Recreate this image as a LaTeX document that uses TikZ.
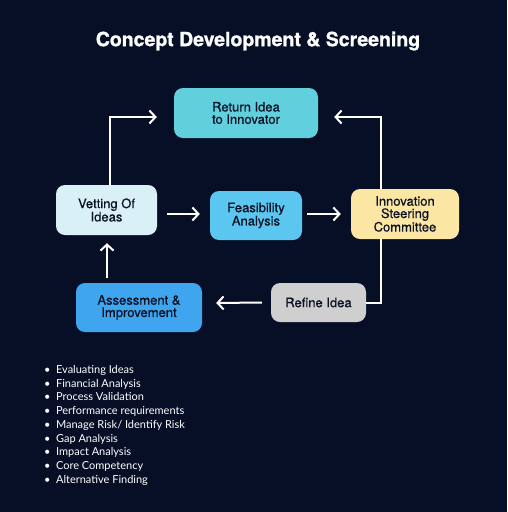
\documentclass[tikz,border=0pt]{standalone}
\usepackage{fontspec}
\setmainfont{TeX Gyre Heros}
\newfontfamily\boxfont[FakeBold=0.6]{TeX Gyre Heros}
\newfontfamily\titlefont[FakeBold=1.2]{TeX Gyre Heros}
\newfontfamily\listfont{Lato}
\usetikzlibrary{arrows.meta,calc}
\definecolor{bg}{HTML}{060F25}
\definecolor{ink}{HTML}{0B1226}
\definecolor{cRet}{HTML}{62CFDD}
\definecolor{cVet}{HTML}{DAF0F7}
\definecolor{cFeas}{HTML}{5BC6F0}
\definecolor{cIsc}{HTML}{FBE7A3}
\definecolor{cAss}{HTML}{3EA5EE}
\definecolor{cRef}{HTML}{CFCFCF}
\tikzset{
  box/.style={rounded corners=9pt, align=center, text=ink, inner sep=0pt,
    font=\boxfont\fontsize{13}{12.3}\selectfont},
  arr/.style={draw=white, line width=2pt, -{Straight Barb[length=6pt,width=13pt,line width=2pt]}},
  ln/.style={draw=white, line width=2pt},
}
\begin{document}
\begin{tikzpicture}[x=1pt,y=-1pt]
\fill[bg] (0,0) rectangle (507,512);
\useasboundingbox (0,0) rectangle (507,512);
\node[text=white, font=\titlefont\fontsize{19.5}{20}\selectfont\bfseries] (title) at (258,41) {Concept Development \& Screening};
\node[box, fill=cRet, minimum width=144pt, minimum height=50pt] (ret) at (246,113) {Return Idea\\to Innovator};
\node[box, fill=cVet, minimum width=101pt, minimum height=50pt] (vet) at (106.5,210) {Vetting Of\\Ideas};
\node[box, fill=cFeas, minimum width=92pt, minimum height=49pt] (feas) at (256,215.5) {Feasibility\\Analysis};
\node[box, fill=cIsc, minimum width=108pt, minimum height=50pt] (isc) at (405,214) {Innovation\\Steering\\Committee};
\node[box, fill=cAss, minimum width=126pt, minimum height=49pt] (ass) at (139,307.5) {Assessment \&\\Improvement};
\node[box, fill=cRef, minimum width=95pt, minimum height=39pt] (ref) at (318.5,302.5) {Refine Idea};
\draw[arr] ($(vet.north)+(3.5,0)$) |- ($(ret.west)+(-17,4)$);
\draw[arr] ($(isc.north)+(-24,0)$) |- ($(ret.east)+(16,4)$);
\draw[arr] ($(vet.east)+(10,4)$) -- ($(feas.west)+(-10,-1.5)$);
\draw[arr] ($(feas.east)+(5,-1.5)$) -- ($(isc.west)+(-10,0)$);
\draw[ln] ($(isc.south)+(-24,0)$) |- (ref.east);
\draw[arr] ($(ref.west)+(-9,0)$) -- ($(ass.east)+(14,-4.5)$);
\draw[arr] ($(ass.north)+(-32,-5)$) -- ($(vet.south)+(0.5,8)$);
\node[anchor=north west, text=white, align=left, inner sep=0pt,
  font=\listfont\fontsize{11}{13.75}\selectfont] (list) at (44,365) {%
  \textbullet\enspace Evaluating Ideas\\
  \textbullet\enspace Financial Analysis\\
  \textbullet\enspace Process Validation\\
  \textbullet\enspace Performance requirements\\
  \textbullet\enspace Manage Risk/ Identify Risk\\
  \textbullet\enspace Gap Analysis\\
  \textbullet\enspace Impact Analysis\\
  \textbullet\enspace Core Competency\\
  \textbullet\enspace Alternative Finding};
\end{tikzpicture}
\end{document}
